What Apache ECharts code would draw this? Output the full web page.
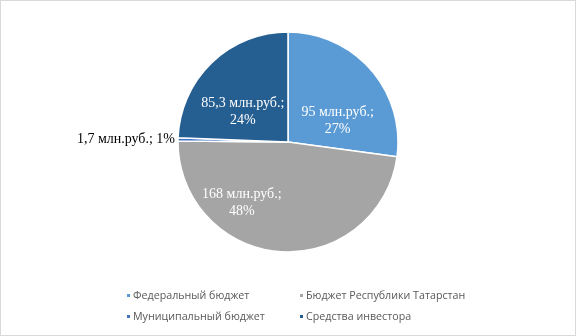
<!DOCTYPE html>
<html>
<head>
<meta charset="utf-8">
<script src="https://cdn.jsdelivr.net/npm/echarts@6/dist/echarts.min.js"></script>
<style>
  html, body { margin: 0; padding: 0; background: #fff; }
  #chart { width: 576px; height: 336px; box-sizing: border-box; border: 1px solid #d9d9d9; }
</style>
</head>
<body>
<div id="chart"></div>
<script>
// Funding sources, million rubles
const sources = ['Федеральный бюджет', 'Бюджет Республики Татарстан', 'Муниципальный бюджет', 'Средства инвестора'];
const amounts = [95, 168, 1.7, 85.3];
const amountLabels = ['95', '168', '1,7', '85,3'];
const shareLabels = ['27%', '48%', '1%', '24%'];
const colors = ['#5b9bd5', '#a5a5a5', '#4472c4', '#255e91'];
// per-slice label nudges, pixels
const labelShift = [[6, 17], [-42, 3], [2, 0], [-5, 12]];

const data = sources.map((name, i) => {
  const item = {
    name: name,
    value: amounts[i],
    itemStyle: { color: colors[i] },
    label: { offset: labelShift[i] }
  };
  if (i === 2) {
    item.label = {
      position: 'outside',
      color: '#000',
      offset: labelShift[i]
    };
    item.labelLine = { show: false, length: 0, length2: 0 };
  }
  return item;
});

const legendText = { fontFamily: 'Open Sans', fontSize: 10.7, color: '#595959', padding: [0, 0, 0, -3] };

const chart = echarts.init(document.getElementById('chart'));
chart.setOption({
  animation: false,
  backgroundColor: '#fff',
  legend: [
    {
      orient: 'vertical',
      left: 124,
      top: 289,
      padding: 0,
      itemWidth: 5,
      itemHeight: 5,
      itemGap: 10,
      icon: 'rect',
      data: [sources[0], sources[2]],
      textStyle: legendText
    },
    {
      orient: 'vertical',
      left: 297,
      top: 289,
      padding: 0,
      itemWidth: 5,
      itemHeight: 5,
      itemGap: 10,
      icon: 'rect',
      data: [sources[1], sources[3]],
      textStyle: legendText
    }
  ],
  series: [{
    type: 'pie',
    center: [287, 141],
    radius: [0, 110],
    startAngle: 90,
    clockwise: true,
    avoidLabelOverlap: false,
    itemStyle: { borderColor: '#fff', borderWidth: 1.5 },
    label: {
      show: true,
      position: 'inside',
      color: '#fff',
      fontFamily: 'Liberation Serif',
      fontSize: 14,
      lineHeight: 17,
      formatter: (p) => {
        const i = p.dataIndex;
        const txt = amountLabels[i] + ' млн.руб.;';
        return i === 2 ? txt + ' ' + shareLabels[i] : txt + '\n' + shareLabels[i];
      }
    },
    labelLine: { show: false },
    data: data
  }]
});
</script>
</body>
</html>
